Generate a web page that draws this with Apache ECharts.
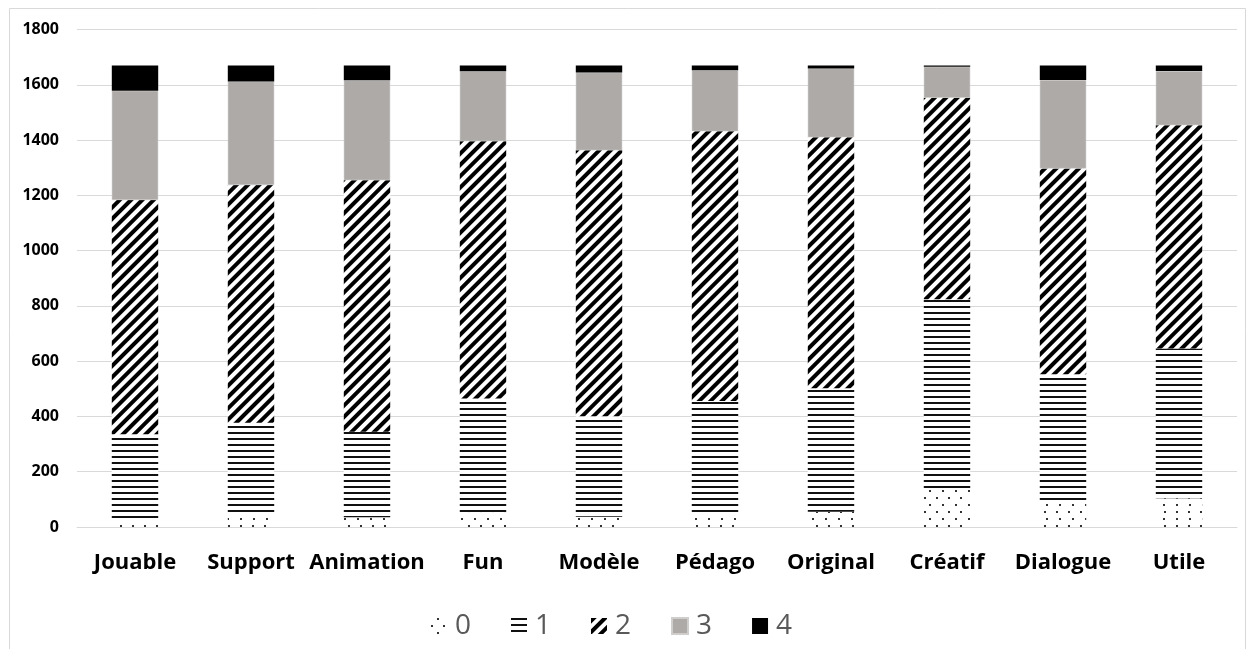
<!DOCTYPE html>
<html>
<head>
<meta charset="utf-8">
<script src="https://cdn.jsdelivr.net/npm/echarts@6/dist/echarts.min.js"></script>
<style>
  html, body { margin: 0; padding: 0; background: #fff; }
  #chart { width: 1254px; height: 649px; }
</style>
</head>
<body>
<div id="chart"></div>
<script>
// Criteria rated on a 0–4 scale, stacked counts per score
const categories = ['Jouable', 'Support', 'Animation', 'Fun', 'Modèle', 'Pédago', 'Original', 'Créatif', 'Dialogue', 'Utile'];
const score0 = [25, 50, 35, 52, 37, 40, 55, 134, 86, 104];
const score1 = [311, 327, 310, 413, 364, 416, 447, 690, 467, 542];
const score2 = [847, 860, 910, 931, 962, 976, 908, 729, 744, 808];
const score3 = [395, 375, 361, 253, 281, 221, 249, 112, 320, 196];
const score4 = [92, 58, 54, 21, 26, 17, 11, 5, 53, 20];
const seriesNames = ['0', '1', '2', '3', '4'];
const yTicks = { min: 0, max: 1800, interval: 200 };

const FONT = '"Open Sans", "Noto Sans", sans-serif';

// Fill styles: dotted, horizontal lines, diagonal hatch, grey, black
const styles = [
  { color: '#ffffff', decal: { symbol: 'rect', symbolSize: 1, color: '#333',
      dashArrayX: [[1.3, 10], [0, 5.5, 1.3, 4.2]], dashArrayY: [1.3, 4.2], rotation: 0 } },
  { color: '#ffffff', decal: { symbol: 'rect', symbolSize: 1, color: '#111',
      dashArrayX: [1, 0], dashArrayY: [1.8, 3.9], rotation: 0 } },
  { color: '#ffffff', decal: { symbol: 'rect', symbolSize: 1, color: '#000',
      dashArrayX: [1, 0], dashArrayY: [3.2, 3.8], rotation: -Math.PI / 4 } },
  { color: '#adaaa8' },
  { color: '#000000' }
];
const values = [score0, score1, score2, score3, score4];

const chart = echarts.init(document.getElementById('chart'), null, { renderer: 'canvas' });

chart.setOption({
  animation: false,
  backgroundColor: '#ffffff',
  graphic: [{
    type: 'rect',
    shape: { x: 9.5, y: 8.5, width: 1236, height: 660 },
    style: { fill: 'none', stroke: '#d9d9d9', lineWidth: 1 },
    silent: true
  }],
  grid: { left: 77, right: 17, top: 29.5, bottom: 122, containLabel: false },
  xAxis: {
    type: 'category',
    data: categories,
    axisLine: { show: true, lineStyle: { color: '#d9d9d9', width: 1 } },
    axisTick: { show: false },
    axisLabel: { interval: 0, color: '#000', fontFamily: FONT, fontWeight: 'bold', fontSize: 22, margin: 25 }
  },
  yAxis: {
    type: 'value',
    min: yTicks.min, max: yTicks.max, interval: yTicks.interval,
    axisLine: { show: false },
    axisTick: { show: false },
    splitLine: { lineStyle: { color: '#d9d9d9', width: 1 } },
    axisLabel: { color: '#000', fontFamily: FONT, fontWeight: 'bold', fontSize: 16, margin: 18,
      formatter: v => String(v) }
  },
  legend: {
    bottom: 4,
    left: 426,
    itemWidth: 16,
    itemHeight: 16,
    itemGap: 40,
    icon: 'rect',
    textStyle: { color: '#595959', fontFamily: FONT, fontSize: 28, padding: [0, 0, 0, 3] },
    data: seriesNames
  },
  series: seriesNames.map((name, i) => ({
    name: name,
    type: 'bar',
    stack: 'total',
    barWidth: '40%',
    data: values[i],
    itemStyle: Object.assign({ borderColor: i === 3 ? '#d0cecd' : null, borderWidth: i === 3 ? 0.5 : 0 }, styles[i]),
    emphasis: { disabled: true }
  }))
});
</script>
</body>
</html>
